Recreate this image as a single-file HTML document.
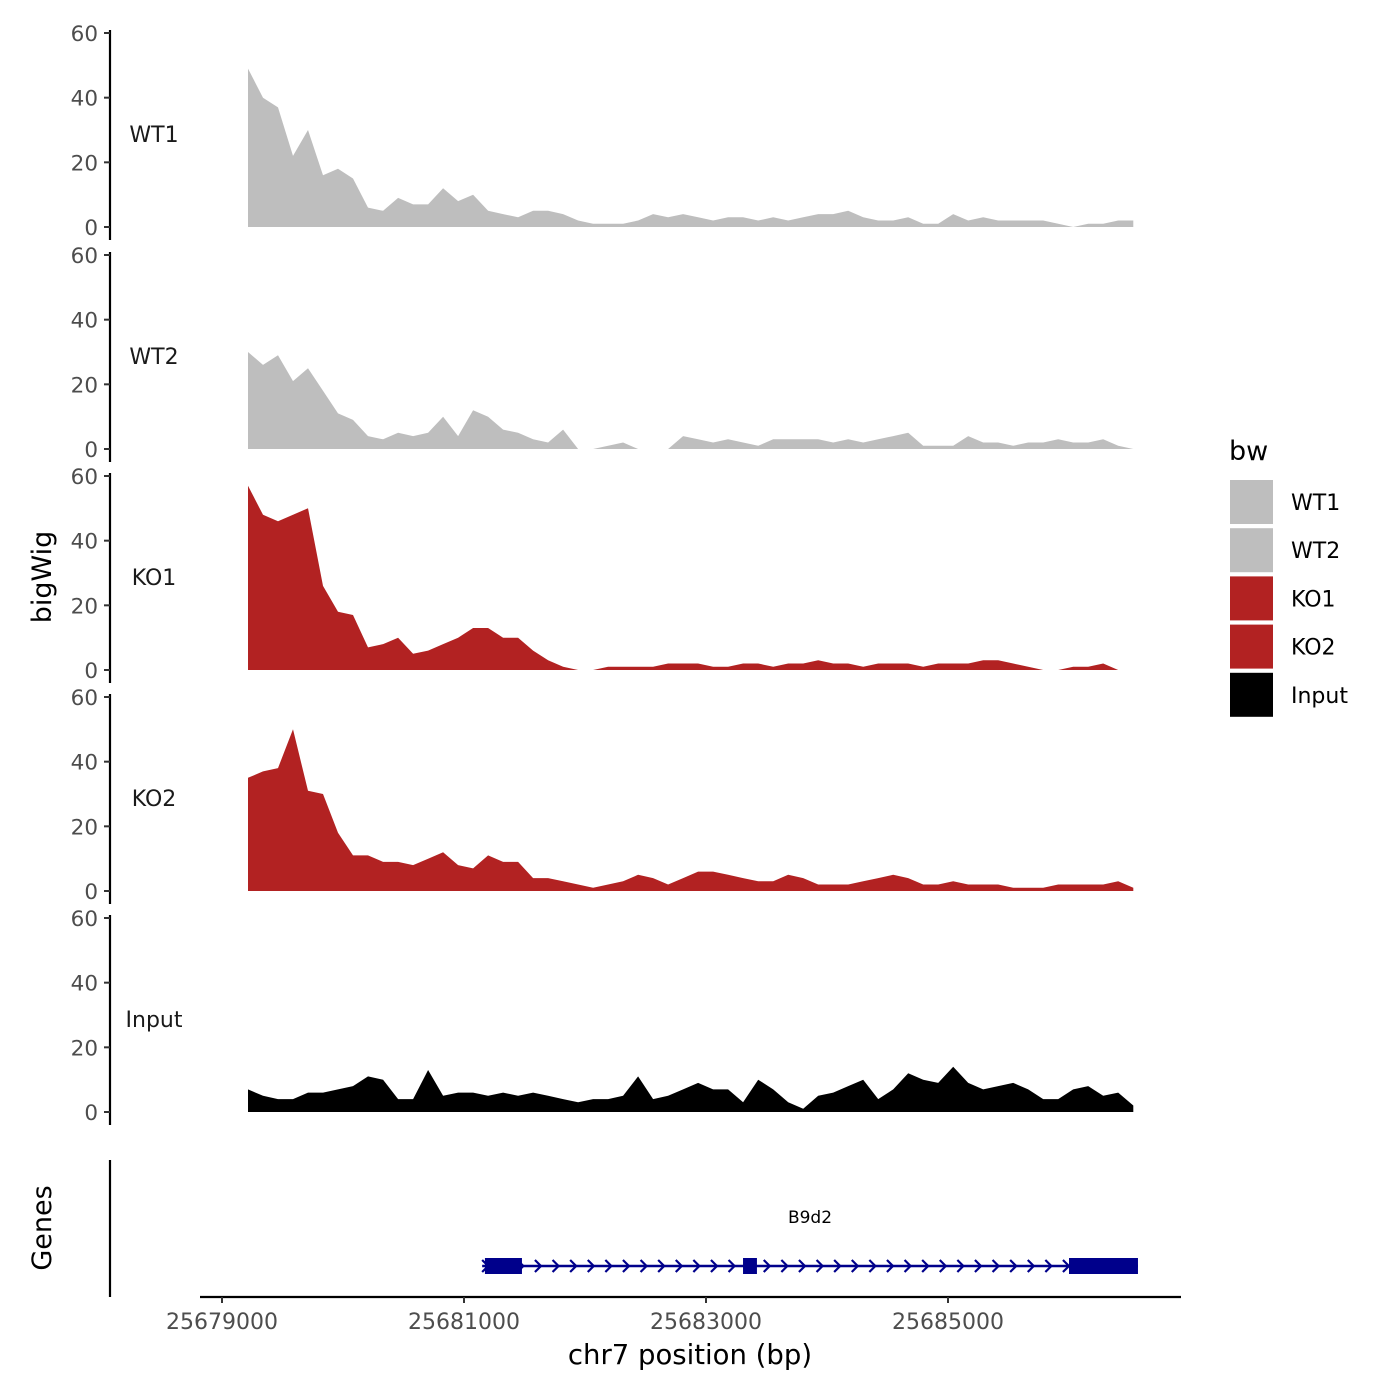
<!DOCTYPE html>
<html><head><meta charset="utf-8">
<style>
html,body{margin:0;padding:0;background:#fff;}
svg{display:block;font-family:"DejaVu Sans","Liberation Sans",sans-serif;}
</style></head>
<body>
<svg id="chart" width="1400" height="1400" viewBox="0 0 1400 1400" xmlns="http://www.w3.org/2000/svg"></svg>
<script>
const trackNames = ["WT1","WT2","KO1","KO2","Input"];
const trackColors = ["#bebebe","#bebebe","#b22222","#b22222","#000000"];
const startBp = 25679215;
const stepBp = 124;
const wt1 = [49,40,37,22,30,16,18,15,6,5,9,7,7,12,8,10,5,4,3,5,5,4,2,1,1,1,2,4,3,4,3,2,3,3,2,3,2,3,4,4,5,3,2,2,3,1,1,4,2,3,2,2,2,2,1,0,1,1,2,2];
const wt2 = [30,26,29,21,25,18,11,9,4,3,5,4,5,10,4,12,10,6,5,3,2,6,0,0,1,2,0,0,0,4,3,2,3,2,1,3,3,3,3,2,3,2,3,4,5,1,1,1,4,2,2,1,2,2,3,2,2,3,1,0];
const ko1 = [57,48,46,48,50,26,18,17,7,8,10,5,6,8,10,13,13,10,10,6,3,1,0,0,1,1,1,1,2,2,2,1,1,2,2,1,2,2,3,2,2,1,2,2,2,1,2,2,2,3,3,2,1,0,0,1,1,2,0,0];
const ko2 = [35,37,38,50,31,30,18,11,11,9,9,8,10,12,8,7,11,9,9,4,4,3,2,1,2,3,5,4,2,4,6,6,5,4,3,3,5,4,2,2,2,3,4,5,4,2,2,3,2,2,2,1,1,1,2,2,2,2,3,1];
const input = [7,5,4,4,6,6,7,8,11,10,4,4,13,5,6,6,5,6,5,6,5,4,3,4,4,5,11,4,5,7,9,7,7,3,10,7,3,1,5,6,8,10,4,7,12,10,9,14,9,7,8,9,7,4,4,7,8,5,6,2];
const series = [wt1,wt2,ko1,ko2,input];
const yTicks = [0,20,40,60];
const xTicks = [25679000,25681000,25683000,25685000];
const exons = [[25681173,25681479],[25683306,25683421],[25686000,25686570]];
const geneSpan = [25681150,25686570];

const NS="http://www.w3.org/2000/svg";
const svg=document.getElementById('chart');
function el(t,a,p){const e=document.createElementNS(NS,t);for(const k in a)e.setAttribute(k,a[k]);(p||svg).appendChild(e);return e;}
function xs(bp){return 222+(bp-25679000)*(242/2000);}
const panelTop=[33,255,476,697,918];
function ys(i,v){return panelTop[i]+194-v*(194/60);}

for(let i=0;i<5;i++){
  const g=el('g',{});
  
  
  const vals=series[i];
  let d='M'+xs(startBp)+','+ys(i,0);
  vals.forEach((v,j)=>{d+=' L'+xs(startBp+j*stepBp).toFixed(1)+','+ys(i,v).toFixed(1);});
  d+=' L'+xs(startBp+(vals.length-1)*stepBp).toFixed(1)+','+ys(i,0)+' Z';
  const a=el('path',{d:d,fill:trackColors[i],'stroke-linejoin':'round'},g);
  
  
  const ax=el('line',{x1:110,x2:110,y1:panelTop[i]-3,y2:panelTop[i]+207,stroke:'#000','stroke-width':2.2},g);
  
  
  yTicks.forEach(t=>{
    const y=ys(i,t);
    el('line',{x1:104,x2:110,y1:y,y2:y,stroke:'#333','stroke-width':2},g);
    const tx=el('text',{x:98,y:y+8,'text-anchor':'end','font-size':21.5,fill:'#4d4d4d'},g);
    tx.textContent=t;
    
    
  });
  const lb=el('text',{x:154,y:panelTop[i]+109,'text-anchor':'middle','font-size':22,fill:'#1a1a1a'},g);
  lb.textContent=trackNames[i];
  
  
}
const yt=el('text',{x:0,y:0,transform:'translate(51,577) rotate(-90)','text-anchor':'middle','font-size':27,fill:'#000'});
yt.textContent='bigWig';



const gg=el('g',{});


el('line',{x1:110,x2:110,y1:1160,y2:1297,stroke:'#000','stroke-width':2.2},gg);
const gt=el('text',{x:0,y:0,transform:'translate(51,1228) rotate(-90)','text-anchor':'middle','font-size':27,fill:'#000'},gg);
gt.textContent='Genes';


el('line',{x1:xs(geneSpan[0]),x2:xs(geneSpan[1]),y1:1266,y2:1266,stroke:'#00008b','stroke-width':2.5},gg);
for(let x=xs(geneSpan[0])+4;x<xs(geneSpan[1])-5;x+=17.6){
  el('polyline',{points:`${x-4},1260 ${x+2},1266 ${x-4},1272`,fill:'none',stroke:'#00008b','stroke-width':2.2},gg);
}
exons.forEach(e=>{
  const r=el('rect',{x:xs(e[0]),y:1258,width:xs(e[1])-xs(e[0]),height:16,fill:'#00008b'},gg);
  
  
});
const gl=el('text',{x:810,y:1223,'text-anchor':'middle','font-size':17,fill:'#000'},gg);
gl.textContent='B9d2';



const xg=el('g',{});


el('line',{x1:200,x2:1181,y1:1297,y2:1297,stroke:'#000','stroke-width':2.2},xg);
xTicks.forEach(t=>{
  const x=xs(t);
  el('line',{x1:x,x2:x,y1:1297,y2:1303,stroke:'#333','stroke-width':2},xg);
  const tx=el('text',{x:x,y:1329,'text-anchor':'middle','font-size':22,fill:'#4d4d4d'},xg);
  tx.textContent=t;
  
  
});
const xt=el('text',{x:690,y:1364,'text-anchor':'middle','font-size':27.5,fill:'#000'});
xt.textContent='chr7 position (bp)';



const lg=el('g',{});


const lt=el('text',{x:1229,y:460,'font-size':27,fill:'#000'},lg);
lt.textContent='bw';


trackNames.forEach((n,i)=>{
  const y=480+i*48.2;
  const r=el('rect',{x:1230,y:y,width:43,height:44,fill:trackColors[i]},lg);
  
  
  const t=el('text',{x:1291,y:y+30,'font-size':22,fill:'#000'},lg);
  t.textContent=n;
  
  
});
</script>
</body></html>
